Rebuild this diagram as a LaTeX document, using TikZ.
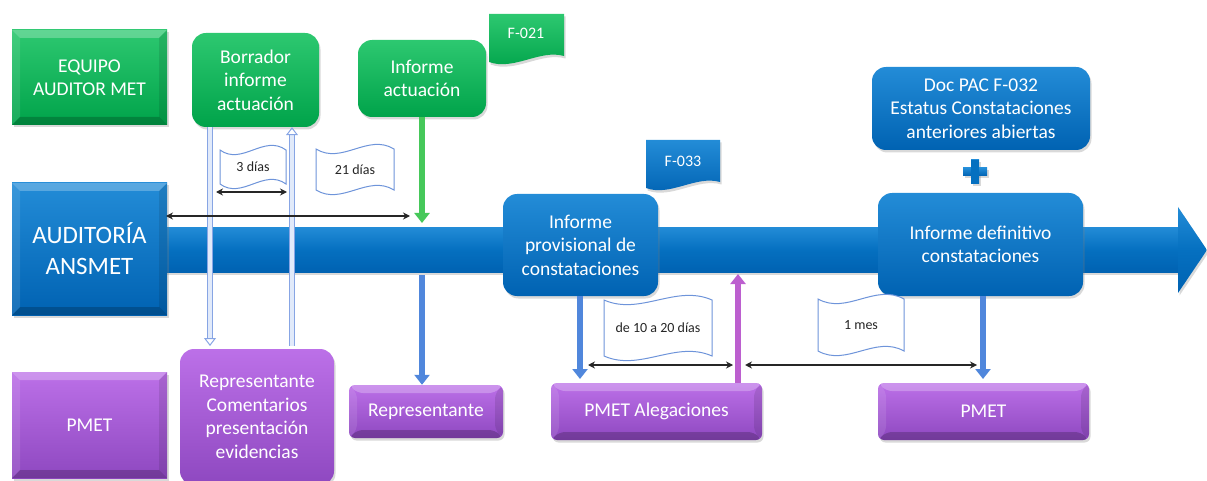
\documentclass[tikz,border=0pt]{standalone}
\usepackage{fontspec}
\setmainfont{Carlito}
\usetikzlibrary{arrows.meta,shadows}

\definecolor{gA}{RGB}{45,200,112}
\definecolor{gB}{RGB}{0,163,74}
\definecolor{gAr}{RGB}{70,200,90}
\definecolor{bA}{RGB}{35,140,215}
\definecolor{bM}{RGB}{5,112,192}
\definecolor{bB}{RGB}{0,98,178}
\definecolor{pA}{RGB}{188,112,232}
\definecolor{pB}{RGB}{142,72,192}
\definecolor{lb}{RGB}{135,165,228}
\definecolor{lbi}{RGB}{225,234,250}
\definecolor{fl}{RGB}{110,148,218}
\definecolor{arB}{RGB}{80,135,220}

\tikzset{
  shad/.style={drop shadow={shadow xshift=1.5pt,shadow yshift=-2.5pt,opacity=.3}},
  box/.style={shad, text=white, align=center, inner sep=2pt, font=\fontsize{19.5}{23.5}\selectfont},
  gbox/.style={box, top color=gA, bottom color=gB},
  bbox/.style={box, top color=bA, bottom color=bB},
  pbox/.style={box, top color=pA, bottom color=pB},
  rbox/.style={rounded corners=14pt},
  bevel/.style={path picture={
    \fill[white,opacity=.25] (path picture bounding box.north west) -- (path picture bounding box.north east) -- ([xshift=-8pt,yshift=-8pt]path picture bounding box.north east) -- ([xshift=8pt,yshift=-8pt]path picture bounding box.north west) -- cycle;
    \fill[black,opacity=.20] (path picture bounding box.south west) -- (path picture bounding box.south east) -- ([xshift=-8pt,yshift=8pt]path picture bounding box.south east) -- ([xshift=8pt,yshift=8pt]path picture bounding box.south west) -- cycle;
    \fill[black,opacity=.10] (path picture bounding box.north east) -- (path picture bounding box.south east) -- ([xshift=-8pt,yshift=8pt]path picture bounding box.south east) -- ([xshift=-8pt,yshift=-8pt]path picture bounding box.north east) -- cycle;
    \fill[white,opacity=.10] (path picture bounding box.north west) -- (path picture bounding box.south west) -- ([xshift=8pt,yshift=8pt]path picture bounding box.south west) -- ([xshift=8pt,yshift=-8pt]path picture bounding box.north west) -- cycle;
  }},
  flagline/.style={draw=fl, line width=1pt, fill=white},
  flagtext/.style={font=\fontsize{14}{16}\selectfont, text=black!85},
  darr/.style={draw=black!85, line width=1.3pt, {Stealth[length=7pt,width=7pt]}-{Stealth[length=7pt,width=7pt]}},
  blockarr/.style={draw=#1, line width=6.5pt, -{Triangle[length=10pt,width=15pt]}},
  hollowarr/.style={draw=lb, line width=1pt, double=lbi, double distance=3.5pt, -{Triangle[open,length=8pt,width=12pt]}},
}

\newcommand\wflag[6]{%
  \pgfmathsetmacro\wWd{#4-#2}%
  \draw[flagline] (#2,#3) .. controls ({#2+\wWd/3},#3+16) and ({#2+2*\wWd/3},#3-16) .. (#4,#3) -- (#4,#5) .. controls ({#2+2*\wWd/3},#5-16) and ({#2+\wWd/3},#5+16) .. (#2,#5) -- cycle;
  \node[flagtext] (#1) at ({(#2+#4)/2},{(#3+#5)/2}) {#6};
}

\begin{document}
\begin{tikzpicture}[x=1pt,y=-1pt]
\useasboundingbox (0,0) rectangle (1207,481);

% main timeline band
\node[shad, top color=bA, bottom color=bB, middle color=bM, minimum width=1020pt, minimum height=45pt, inner sep=0pt] (band) at (670,249.5) {};
\path[shad, top color=bA, bottom color=bB, middle color=bM] (1178,207) -- (1207,250) -- (1178,293) -- cycle;

% row 1 (green)
\node[gbox, bevel, minimum width=155pt, minimum height=95pt] (eq) at (89.5,77.5) {EQUIPO\\AUDITOR MET};
\node[gbox, rbox, minimum width=127pt, minimum height=94pt] (bor) at (255.5,80) {Borrador\\informe\\actuación};
\node[gbox, rbox, minimum width=128pt, minimum height=77pt] (inf) at (422,78.5) {Informe\\actuación};
\path[shad, top color=gA, bottom color=gB] (489,14) -- (564,14) -- (564,56) .. controls (540,49) and (514,71) .. (489,62) -- cycle;
\node[text=white, font=\fontsize{16}{18}\selectfont] (f021) at (526,33) {F-021};

% row 2 (blue)
\node[bbox, bevel, minimum width=155pt, minimum height=132pt, font=\fontsize{25}{31}\selectfont] (aud) at (89.5,249) {AUDITORÍA\\ANSMET};
\node[bbox, rbox, minimum width=155pt, minimum height=102pt] (prov) at (580.5,245) {Informe\\provisional de\\constataciones};
\path[shad, top color=bA, bottom color=bB] (646,140) -- (720,140) -- (720,182) .. controls (696,175) and (670,197) .. (646,188) -- cycle;
\node[text=white, font=\fontsize{16}{18}\selectfont] (f033) at (683,161) {F-033};
\node[bbox, rbox, minimum width=218pt, minimum height=83pt] (doc) at (981,108.5) {Doc PAC F-032\\Estatus Constataciones\\anteriores abiertas};
\path[shad, top color=bA, bottom color=bB] (971,160) rectangle (979,184);
\path[shad, top color=bA, bottom color=bB] (963,168) rectangle (987,176);
\path[fill=bM] (971,160) rectangle (979,184);
\node[bbox, rbox, minimum width=205pt, minimum height=103pt] (def) at (980.5,244.5) {Informe definitivo\\constataciones};

% row 3 (purple)
\node[pbox, bevel, minimum width=155pt, minimum height=106pt] (pm1) at (89.5,425) {PMET};
\node[pbox, rbox, minimum width=154pt, minimum height=136pt] (rep2) at (257,417) {Representante\\Comentarios\\presentación\\evidencias};
\node[pbox, bevel, rounded corners=6pt, minimum width=154pt, minimum height=53pt] (rep) at (426,411.5) {Representante};
\node[pbox, bevel, rounded corners=6pt, minimum width=211pt, minimum height=57pt] (pale) at (656.5,411.5) {PMET Alegaciones};
\node[pbox, bevel, rounded corners=6pt, minimum width=211pt, minimum height=57pt] (pm3) at (983.5,411.5) {PMET};

% free ends
\coordinate (gEnd) at (422,223);
\coordinate (rStart) at (422,275);
\coordinate (pEnd) at (738,274);
\coordinate (h1e) at (210,346);
\coordinate (h2s) at (292,346);

% vertical arrows
\draw[hollowarr] (210,0 |- bor.south) -- (h1e);
\draw[hollowarr] (h2s) -- (292,0 |- bor.south);
\draw[blockarr=gAr] (inf.south) -- (gEnd);
\draw[blockarr=arB] (rStart) -- (422,0 |- rep.north) ;
\draw[blockarr=arB] (580,0 |- prov.south) -- (580,379);
\draw[blockarr=pA!85!purple] (738,0 |- pale.north) -- (pEnd);
\draw[blockarr=arB] (983,0 |- def.south) -- (983,379);

% duration flags
\wflag{f3}{220}{150}{286}{184}{3 días}
\wflag{f21}{316}{149}{394}{190}{21 días}
\wflag{f1020}{604}{300}{712}{356}{de 10 a 20 días}
\wflag{f1m}{818}{299}{904}{351}{1 mes}

% duration arrows
\coordinate (d3a) at (216,192);
\coordinate (d3b) at (287,192);
\coordinate (d21a) at (166,216);
\coordinate (d21b) at (410,216);
\coordinate (d10a) at (588,365);
\coordinate (d10b) at (733,365);
\coordinate (d1a) at (745,365);
\coordinate (d1b) at (977,365);
\draw[darr] (d3a) -- (d3b);
\draw[darr] (d21a) -- (d21b);
\draw[darr] (d10a) -- (d10b);
\draw[darr] (d1a) -- (d1b);
\end{tikzpicture}
\end{document}
